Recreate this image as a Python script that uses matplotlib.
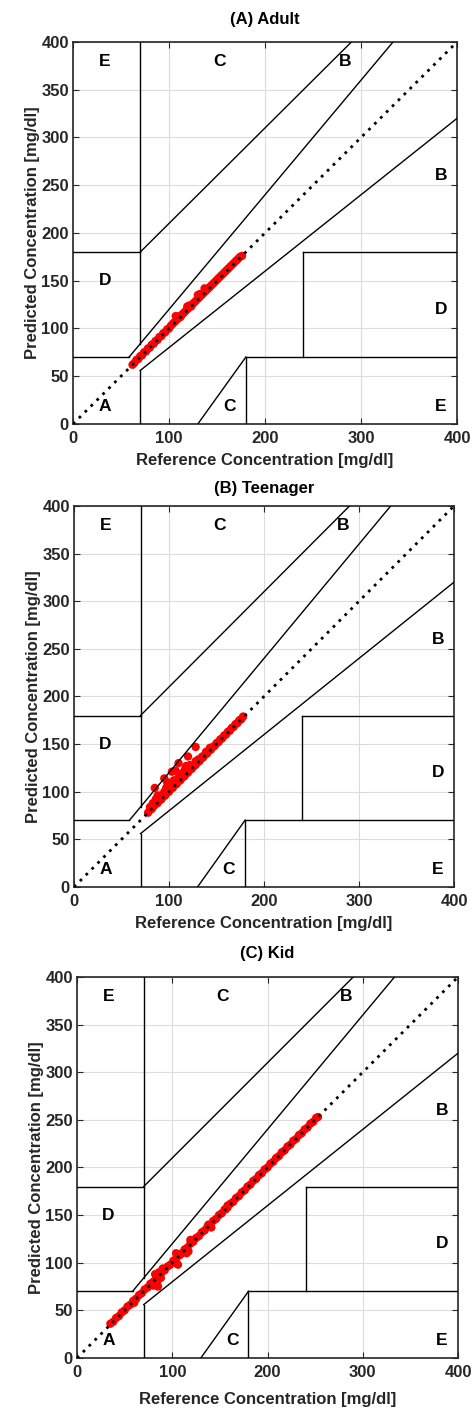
import matplotlib
matplotlib.use('Agg')
import matplotlib.pyplot as plt

plt.rcParams['font.family'] = ['Liberation Sans', 'DejaVu Sans']
plt.rcParams['font.weight'] = 'bold'

titles = ['(A) Adult', '(B) Teenager', '(C) Kid']

# reference vs predicted glucose
adult_ref = [62, 64, 66, 68, 70, 72, 74, 76, 78, 80, 82, 84, 86, 88, 90, 92, 94, 96, 98, 100,
             102, 104, 106, 108, 110, 112, 114, 116, 118, 120, 122, 124, 126, 128, 130, 132, 134, 136, 138, 140,
             142, 144, 146, 148, 150, 152, 154, 156, 158, 160, 162, 164, 166, 168, 170, 172, 174, 176,
             107, 109, 111, 119, 121, 123, 130, 132, 137, 139]
adult_pred = [62, 64, 67, 68, 71, 72, 75, 76, 79, 80, 83, 84, 87, 88, 91, 92, 95, 96, 99, 100,
              103, 105, 107, 109, 111, 112, 115, 117, 119, 121, 123, 125, 127, 129, 131, 133, 135, 137, 139, 141,
              143, 145, 147, 149, 151, 153, 155, 157, 159, 161, 163, 165, 167, 169, 171, 173, 175, 176,
              113, 112, 113, 123, 124, 123, 135, 136, 142, 141]

teen_ref = [78, 80, 82, 84, 86, 88, 90, 92, 94, 96, 98, 100, 102, 104, 106, 108, 110, 112, 114, 116,
            118, 120, 122, 124, 126, 128, 130, 132, 134, 136, 138, 140, 142, 144, 146, 148, 150, 152, 154, 156,
            158, 160, 162, 164, 166, 168, 170, 172, 174, 176, 178,
            80, 83, 86, 88, 90, 92, 95, 97, 99, 101, 103, 105, 108, 110, 112, 115, 117, 120, 122, 125,
            128, 131, 135, 139, 143,
            85, 95, 103, 107, 110, 120, 128, 88, 98, 113, 118]
teen_pred = [78, 81, 82, 85, 87, 88, 91, 92, 95, 96, 99, 100, 103, 104, 107, 108, 111, 112, 115, 116,
             119, 120, 123, 124, 127, 128, 131, 132, 135, 136, 139, 140, 143, 144, 147, 148, 151, 152, 155, 156,
             159, 160, 163, 164, 167, 168, 171, 172, 175, 176, 179,
             84, 88, 92, 90, 96, 94, 100, 104, 102, 108, 106, 112, 110, 115, 118, 120, 124, 122, 128, 126,
             132, 134, 137, 142, 146,
             104, 114, 121, 122, 130, 137, 147, 96, 110, 119, 127]

kid_ref = [35, 38, 41, 44, 47, 50, 53, 56, 59, 62, 65, 68, 71, 74, 77, 80, 83, 86, 89, 92,
           95, 98, 101, 104, 107, 110, 113, 116, 119, 122, 125, 128, 131, 134, 137, 140, 143, 146, 149, 152,
           155, 158, 161, 164, 167, 170, 173, 176, 179, 182, 185, 188, 191, 194, 197, 200, 203, 206, 209, 212,
           215, 218, 221, 224, 227, 230, 233, 236, 239, 242, 245, 248, 251, 253,
           60, 62, 80, 82, 84, 86, 88, 90, 85, 102, 104, 106, 108, 115, 117, 119, 121, 138, 141, 156, 158]
kid_pred = [36, 38, 42, 44, 48, 50, 54, 56, 60, 62, 66, 68, 72, 74, 78, 80, 84, 86, 90, 92,
            96, 98, 102, 104, 108, 110, 114, 116, 120, 122, 126, 128, 132, 134, 138, 140, 144, 146, 150, 152,
            156, 158, 162, 164, 168, 170, 174, 176, 180, 182, 186, 188, 192, 194, 198, 200, 204, 206, 210, 212,
            216, 218, 222, 224, 228, 230, 234, 236, 240, 242, 246, 248, 252, 253,
            58, 62, 76, 88, 78, 90, 84, 94, 75, 100, 110, 98, 108, 110, 112, 124, 123, 140, 137, 156, 160]

refs = [adult_ref, teen_ref, kid_ref]
preds = [adult_pred, teen_pred, kid_pred]

xticks = [0, 100, 200, 300, 400]
yticks = [0, 50, 100, 150, 200, 250, 300, 350, 400]

# Clarke error grid zone boundaries
zone_lines = [
    ([0, 175 / 3], [70, 70]),
    ([175 / 3, 400 / 1.2], [70, 400]),
    ([70, 70], [84, 400]),
    ([0, 70], [180, 180]),
    ([70, 290], [180, 400]),
    ([70, 70], [0, 56]),
    ([70, 400], [56, 320]),
    ([180, 180], [0, 70]),
    ([180, 400], [70, 70]),
    ([240, 240], [70, 180]),
    ([240, 400], [180, 180]),
    ([130, 180], [0, 70]),
]
zone_labels = [('A', 33, 18), ('B', 283, 380), ('B', 383, 260), ('C', 153, 380), ('C', 163, 18),
               ('D', 33, 150), ('D', 383, 120), ('E', 33, 380), ('E', 383, 18)]

# axes boxes in figure fractions (left, bottom, width, height)
boxes = [(0.1534, 0.6991, 0.8067, 0.2711),
         (0.1555, 0.3705, 0.7983, 0.2704),
         (0.1618, 0.0362, 0.8004, 0.2704)]
title_pads = [13, 9, 14]
xlabel_pads = [5, 5, 9]

fig = plt.figure(figsize=(4.76, 14.09), dpi=100)

for i in range(3):
    ax = fig.add_axes(boxes[i])
    ax.scatter(refs[i], preds[i], s=36, c='red', edgecolors='none', zorder=2)
    ax.plot([0, 400], [0, 400], color='black', linestyle=(0, (1, 2)), lw=2, zorder=3)
    for xs, ys in zone_lines:
        ax.plot(xs, ys, color='black', lw=1, zorder=3)
    for txt, tx, ty in zone_labels:
        ax.text(tx, ty, txt, ha='center', va='center', fontsize=12.5, fontweight='bold')
    ax.set_xlim(0, 400)
    ax.set_ylim(0, 400)
    ax.set_xticks(xticks)
    ax.set_yticks(yticks)
    ax.grid(True, color='#dcdcdc', lw=0.8, zorder=0)
    ax.set_axisbelow(True)
    ax.tick_params(direction='in', top=True, right=True, length=4, labelsize=12,
                   colors='#262626')
    ax.tick_params(axis='x', pad=5)
    ax.tick_params(axis='y', pad=3)
    for lab in ax.get_xticklabels() + ax.get_yticklabels():
        lab.set_fontweight('bold')
    for sp in ax.spines.values():
        sp.set_color('#262626')
        sp.set_linewidth(1.2)
    ax.set_xlabel('Reference Concentration [mg/dl]', fontsize=12, fontweight='bold',
                  color='#262626', labelpad=xlabel_pads[i])
    ax.set_ylabel('Predicted Concentration [mg/dl]', fontsize=12, fontweight='bold',
                  color='#262626', labelpad=1)
    ax.set_title(titles[i], fontsize=12, fontweight='bold', pad=title_pads[i])

fig.savefig('out.png', dpi=100)
